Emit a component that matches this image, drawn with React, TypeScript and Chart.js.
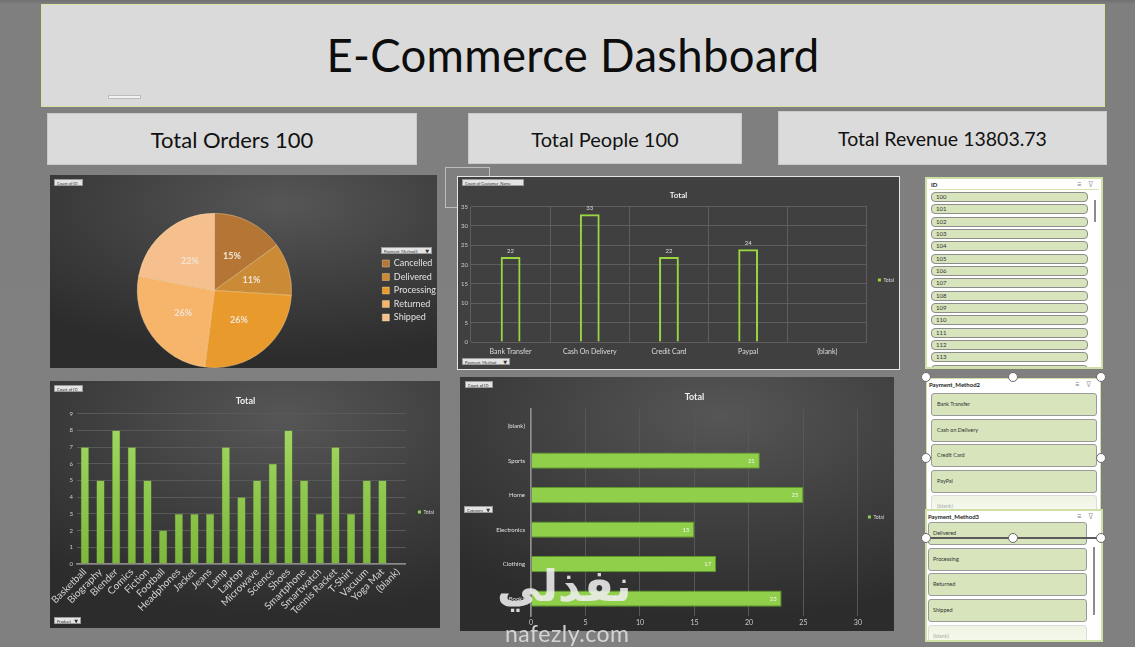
import React, { useEffect, useRef } from "react";
import { Chart, registerables } from "chart.js";

Chart.register(...registerables);

// ---------------- data ----------------
const statusLabels = ["Cancelled", "Delivered", "Processing", "Returned", "Shipped"];
const statusValues = [15, 11, 26, 26, 22];
const statusColors = ["#b57535", "#cb8a36", "#e99a2c", "#f6b56b", "#f5c08e"];

const paymentLabels = ["Bank Transfer", "Cash On Delivery", "Credit Card", "Paypal", "(blank)"];
const paymentValues = [22, 33, 22, 24, null];

const productLabels = [
  "Basketball", "Biography", "Blender", "Comics", "Fiction", "Football", "Headphones",
  "Jacket", "Jeans", "Lamp", "Laptop", "Microwave", "Science", "Shoes", "Smartphone",
  "Smartwatch", "Tennis Racket", "T-Shirt", "Vacuum", "Yoga Mat", "(blank)",
];
const productValues = [7, 5, 8, 7, 5, 2, 3, 3, 3, 7, 4, 5, 6, 8, 5, 3, 7, 3, 5, 5, null];

const categoryLabels = ["(blank)", "Sports", "Home", "Electronics", "Clothing", "Books"];
const categoryValues = [null, 21, 25, 15, 17, 23];

const kpiLabels = ["Total Orders", "Total People", "Total Revenue"];
const kpiValues = ["100", "100", "13803.73"];

const idItems = ["100", "101", "102", "103", "104", "105", "106", "107", "108", "109", "110", "111", "112", "113", "114"];
const paymentSlicerItems = ["Bank Transfer", "Cash on Delivery", "Credit Card", "PayPal", "(blank)"];
const statusSlicerItems = ["Delivered", "Processing", "Returned", "Shipped", "(blank)"];

// --------------- plugin: data labels ---------------
const valueLabels = {
  id: "valueLabels",
  afterDatasetsDraw(chart: any, _args: any, opts: any) {
    if (!opts || !opts.mode) return;
    const ctx = chart.ctx;
    const ds = chart.data.datasets[0];
    const meta = chart.getDatasetMeta(0);
    const total = (ds.data as any[]).reduce((a, b) => a + (b || 0), 0);
    ctx.save();
    ctx.font = opts.font;
    ctx.fillStyle = opts.color;
    meta.data.forEach((el: any, i: number) => {
      const v = ds.data[i];
      if (v == null) return;
      if (opts.mode === "pie") {
        const p = el.tooltipPosition();
        ctx.textAlign = "center";
        ctx.textBaseline = "middle";
        ctx.fillText(Math.round((v / total) * 100) + "%", p.x, p.y);
      } else if (opts.mode === "top") {
        ctx.textAlign = "center";
        ctx.textBaseline = "bottom";
        ctx.fillText(String(v), el.x, el.y - 3);
      } else if (opts.mode === "insideEnd") {
        ctx.textAlign = "right";
        ctx.textBaseline = "middle";
        ctx.fillText(String(v), el.x - 5, el.y);
      }
    });
    ctx.restore();
  },
};

// --------------- plugin: nudge legend box ---------------
const legendOffset = {
  id: "legendOffset",
  afterLayout(chart: any, _args: any, opts: any) {
    const l = chart.legend;
    if (!l || !opts) return;
    const dx = opts.dx || 0;
    const dy = opts.dy || 0;
    l.left += dx;
    l.right += dx;
    l.top += dy;
    l.bottom += dy;
  },
};
Chart.register(valueLabels as any, legendOffset as any);

const FONT = "Lato, 'DejaVu Sans', sans-serif";

const greenGradient = (c: any) => {
  const chart = c.chart;
  const area = chart.chartArea;
  if (!area) return "#8cc84b";
  const g = chart.ctx.createLinearGradient(0, area.top, 0, area.bottom);
  g.addColorStop(0, "#a4da64");
  g.addColorStop(1, "#7cb83c");
  return g;
};

function singleLegend(color: string) {
  return (chart: any) => [
    {
      text: chart.data.datasets[0].label,
      fillStyle: color,
      strokeStyle: color,
      lineWidth: 0,
      fontColor: "#dddddd",
      datasetIndex: 0,
    },
  ];
}

// --------------- small UI bits ---------------
function Btn({ x, y, w, text, arrow }: { x: number; y: number; w: number; text: string; arrow?: boolean }) {
  return (
    <div
      style={{
        position: "absolute",
        left: x,
        top: y,
        width: w,
        height: 7,
        background: "#e4e4e4",
        border: "1px solid #9a9a9a",
        fontSize: 4,
        lineHeight: "7px",
        color: "#333",
        paddingLeft: 2,
        boxSizing: "border-box",
        whiteSpace: "nowrap",
        overflow: "hidden",
        zIndex: 3,
      }}
    >
      {text}
      {arrow && <span style={{ position: "absolute", right: 2, top: 0, fontSize: 5 }}>▼</span>}
    </div>
  );
}

function Handle({ x, y }: { x: number; y: number }) {
  return (
    <div
      style={{
        position: "absolute",
        left: x - 5,
        top: y - 5,
        width: 8,
        height: 8,
        borderRadius: "50%",
        background: "#fff",
        border: "1px solid #6a6a6a",
        zIndex: 6,
      }}
    />
  );
}

function SlicerIcons({ x, y }: { x: number; y: number }) {
  return (
    <div style={{ position: "absolute", left: x, top: y, fontSize: 8, color: "#7a7a7a", lineHeight: "8px", whiteSpace: "nowrap" }}>
      <span>≡</span>
      <span style={{ marginLeft: 6, color: "#b0b0b0" }}>⊽</span>
    </div>
  );
}

export default function App() {
  const pieRef = useRef<HTMLCanvasElement>(null);
  const payRef = useRef<HTMLCanvasElement>(null);
  const prodRef = useRef<HTMLCanvasElement>(null);
  const catRef = useRef<HTMLCanvasElement>(null);

  useEffect(() => {
    document.body.style.margin = "0";
    Chart.defaults.font.family = FONT;
    const charts: Chart[] = [];

    // Pie
    charts.push(
      new Chart(pieRef.current!, {
        type: "pie",
        data: {
          labels: statusLabels,
          datasets: [
            {
              data: statusValues,
              backgroundColor: statusColors,
              borderColor: "rgba(255,225,180,0.55)",
              borderWidth: 0.7,
            },
          ],
        },
        options: {
          responsive: false,
          animation: false,
          layout: { padding: { top: 38, bottom: 0, left: 10, right: 0 } },
          plugins: {
            legend: {
              position: "right",
              labels: { color: "#e2e2e2", font: { size: 9, family: FONT }, boxWidth: 7, boxHeight: 7, padding: 4.5 },
            },
            tooltip: { enabled: false },
            valueLabels: { mode: "pie", color: "#f2e4d4", font: `bold 9px ${FONT}` },
            legendOffset: { dx: 9, dy: 0 },
          } as any,
        },
      })
    );

    // Payment method columns (hollow)
    charts.push(
      new Chart(payRef.current!, {
        type: "bar",
        data: {
          labels: paymentLabels,
          datasets: [
            {
              label: "Total",
              data: paymentValues,
              backgroundColor: "rgba(0,0,0,0)",
              borderColor: "#9ad640",
              borderWidth: 2,
              barPercentage: 0.25,
              categoryPercentage: 1,
            },
          ],
        },
        options: {
          responsive: false,
          animation: false,
          layout: { padding: { left: 2, right: 2, top: 0, bottom: 0 } },
          plugins: {
            title: {
              display: true,
              text: "Total",
              color: "#eeeeee",
              font: { size: 8, weight: "bold", family: FONT },
              padding: { top: 14, bottom: 6 },
            },
            legend: {
              position: "right",
              labels: { font: { size: 5, family: FONT }, boxWidth: 3, boxHeight: 3, padding: 4, generateLabels: singleLegend("#9ad640") },
            },
            tooltip: { enabled: false },
            valueLabels: { mode: "top", color: "#dddddd", font: `6px ${FONT}` },
            legendOffset: { dx: 7, dy: 7 },
          } as any,
          scales: {
            y: {
              min: 0,
              max: 35,
              ticks: { stepSize: 5, color: "#cccccc", font: { size: 6 }, padding: 3 },
              grid: { color: "#5e5e5e", drawTicks: false },
              border: { display: false },
              afterFit: (s: any) => { s.width = 11; },
            },
            x: {
              ticks: { color: "#dddddd", font: { size: 7 }, padding: 6 },
              grid: { color: "#5e5e5e", drawTicks: false },
              border: { display: false },
              afterFit: (s: any) => { s.height = 27; },
            },
          },
        },
      })
    );

    // Product columns
    charts.push(
      new Chart(prodRef.current!, {
        type: "bar",
        data: {
          labels: productLabels,
          datasets: [
            {
              label: "Total",
              data: productValues,
              backgroundColor: greenGradient,
              borderColor: "#74ad36",
              borderWidth: 0.5,
              barPercentage: 0.52,
              categoryPercentage: 1,
            },
          ],
        },
        options: {
          responsive: false,
          animation: false,
          layout: { padding: { left: 5, right: 4, top: 0, bottom: 3 } },
          plugins: {
            title: {
              display: true,
              text: "Total",
              color: "#eeeeee",
              font: { size: 9, weight: "bold", family: FONT },
              padding: { top: 15, bottom: 7 },
            },
            legend: {
              position: "right",
              labels: { font: { size: 5, family: FONT }, boxWidth: 3, boxHeight: 3, padding: 4, generateLabels: singleLegend("#92d050") },
            },
            tooltip: { enabled: false },
            legendOffset: { dx: 8, dy: 9 },
          } as any,
          scales: {
            y: {
              min: 0,
              max: 9,
              ticks: { stepSize: 1, color: "#cccccc", font: { size: 6 }, padding: 4 },
              grid: { color: "#595959", drawTicks: false },
              border: { display: false },
              afterFit: (s: any) => { s.width = 22; },
            },
            x: {
              ticks: { color: "#d2d2d2", font: { size: 10 }, autoSkip: false, minRotation: 45, maxRotation: 45, padding: 2 },
              grid: { display: false, drawTicks: false },
              border: { display: true, color: "#8a8a8a", width: 1.5 },
              afterFit: (s: any) => { s.height = 61; },
            },
          },
        },
      })
    );

    // Category horizontal bars
    charts.push(
      new Chart(catRef.current!, {
        type: "bar",
        data: {
          labels: categoryLabels,
          datasets: [
            {
              label: "Total",
              data: categoryValues,
              backgroundColor: "#90cf49",
              borderColor: "#5e9a2a",
              borderWidth: 1,
              barPercentage: 0.47,
              categoryPercentage: 1,
            },
          ],
        },
        options: {
          indexAxis: "y",
          responsive: false,
          animation: false,
          layout: { padding: { left: 5, right: 6, top: 0, bottom: 0 } },
          plugins: {
            title: {
              display: true,
              fullSize: false,
              text: "Total",
              color: "#eeeeee",
              font: { size: 9, weight: "bold", family: FONT },
              padding: { top: 15, bottom: 6 },
            },
            legend: {
              position: "right",
              labels: { font: { size: 5, family: FONT }, boxWidth: 3, boxHeight: 3, padding: 4, generateLabels: singleLegend("#92d050") },
            },
            tooltip: { enabled: false },
            valueLabels: { mode: "insideEnd", color: "#f4f4f4", font: `6px ${FONT}` },
            legendOffset: { dx: 6, dy: 13 },
          } as any,
          scales: {
            x: {
              min: 0,
              max: 30,
              ticks: { stepSize: 5, color: "#cccccc", font: { size: 7 }, padding: 3 },
              grid: { color: "#575757", drawTicks: false },
              border: { display: false },
              afterFit: (s: any) => { s.height = 15; },
            },
            y: {
              ticks: { color: "#e0e0e0", font: { size: 6 }, padding: 6 },
              grid: { display: false, drawTicks: false },
              border: { display: true, color: "#8f8f8f", width: 1.5 },
              afterFit: (s: any) => { s.width = 66; },
            },
          },
        },
      })
    );

    return () => charts.forEach((c) => c.destroy());
  }, []);

  const darkPanel = "radial-gradient(ellipse 90% 80% at 60% 15%, #565656 0%, #3e3e3e 55%, #2c2c2c 100%)";
  const kpiFont = [22, 20, 19.5];

  return (
    <div
      style={{
        position: "fixed",
        left: 0,
        top: 0,
        width: 1135,
        height: 647,
        background: "linear-gradient(#6f6f6f 0px, #7f7f7f 4px, #808080 100%)",
        overflow: "hidden",
        fontFamily: FONT,
      }}
    >
      {/* header */}
      <div
        style={{
          position: "absolute",
          left: 41,
          top: 4,
          width: 1064,
          height: 103,
          background: "#dadada",
          border: "1px solid #d5e3a0",
          boxSizing: "border-box",
          display: "flex",
          alignItems: "center",
          justifyContent: "center",
        }}
      >
        <div style={{ fontSize: 45.5, color: "#0d0d0d", marginTop: -3, letterSpacing: 0.3 }}>E-Commerce Dashboard</div>
        <div style={{ position: "absolute", left: 66, top: 90, width: 31, height: 2, background: "#f2f2f2", border: "0.5px solid #bdbdbd" }} />
      </div>

      {/* KPI cards */}
      {[
        { x: 47, y: 113, w: 370, h: 52 },
        { x: 468, y: 113, w: 274, h: 51 },
        { x: 778, y: 111, w: 329, h: 54 },
      ].map((b, i) => (
        <div
          key={i}
          style={{
            position: "absolute",
            left: b.x,
            top: b.y,
            width: b.w,
            height: b.h,
            background: "#dbdbdb",
            border: "1px solid #c9c9c9",
            boxSizing: "border-box",
            display: "flex",
            alignItems: "center",
            justifyContent: "center",
            fontSize: kpiFont[i],
            color: "#111",
          }}
        >
          {kpiLabels[i]} {kpiValues[i]}
        </div>
      ))}

      {/* pie panel */}
      <div style={{ position: "absolute", left: 50, top: 175, width: 387, height: 193, background: darkPanel }}>
        <canvas ref={pieRef} width={387} height={193} style={{ width: 387, height: 193, display: "block" }} />
      </div>
      <Btn x={54} y={179} w={29} text="Count of ID" />
      <Btn x={381} y={247} w={51} text="Payment_Method3" arrow />

      {/* outline artifact */}
      <div style={{ position: "absolute", left: 445, top: 167, width: 45, height: 41, border: "1px solid #bdbdbd", boxSizing: "border-box" }} />

      {/* payment column panel */}
      <div
        style={{
          position: "absolute",
          left: 457,
          top: 176,
          width: 443,
          height: 194,
          background: "#404040",
          border: "1px solid #e6e6e6",
          boxSizing: "border-box",
        }}
      >
        <canvas ref={payRef} width={441} height={192} style={{ width: 441, height: 192, display: "block" }} />
      </div>
      <Btn x={462} y={179} w={62} text="Count of Customer_Name" />
      <Btn x={462} y={358} w={48} text="Payment_Method" arrow />

      {/* product column panel */}
      <div style={{ position: "absolute", left: 50, top: 381, width: 390, height: 247, background: darkPanel }}>
        <canvas ref={prodRef} width={390} height={247} style={{ width: 390, height: 247, display: "block" }} />
      </div>
      <Btn x={54} y={385} w={29} text="Count of ID" />
      <Btn x={54} y={617} w={27} text="Product" arrow />

      {/* category bar panel */}
      <div style={{ position: "absolute", left: 460, top: 377, width: 434, height: 254, background: darkPanel }}>
        <canvas ref={catRef} width={434} height={254} style={{ width: 434, height: 254, display: "block" }} />
      </div>
      <Btn x={465} y={381} w={28} text="Count of ID" />
      <Btn x={464} y={506} w={29} text="Category" arrow />

      {/* ID slicer */}
      <div
        style={{
          position: "absolute",
          left: 925,
          top: 177,
          width: 178,
          height: 192,
          background: "#ffffff",
          border: "2px solid #cfe0a6",
          boxSizing: "border-box",
          overflow: "hidden",
        }}
      >
        <div style={{ position: "absolute", left: 4, top: 2, fontSize: 6, fontWeight: "bold", color: "#222" }}>ID</div>
        <SlicerIcons x={150} y={1} />
        <div style={{ position: "absolute", left: 2, right: 2, top: 10, height: 1, background: "#d6e2b0" }} />
        {idItems.map((t, i) => (
          <div
            key={t}
            style={{
              position: "absolute",
              left: 4,
              top: 13 + i * 12.33,
              width: 157,
              height: 10,
              background: "#d7e4bc",
              border: "1px solid #8d8d8d",
              borderRadius: 4,
              boxSizing: "border-box",
              fontSize: 6,
              lineHeight: "8px",
              paddingLeft: 4,
              color: "#333",
            }}
          >
            {t}
          </div>
        ))}
        <div style={{ position: "absolute", left: 167, top: 21, width: 1.5, height: 22, background: "#8c8c8c" }} />
      </div>

      {/* Payment_Method2 slicer */}
      <div
        style={{
          position: "absolute",
          left: 926,
          top: 378,
          width: 175,
          height: 138,
          background: "#ffffff",
          border: "1px solid #cfe0a6",
          boxSizing: "border-box",
          overflow: "hidden",
        }}
      >
        <div style={{ position: "absolute", left: 2, top: 2, fontSize: 6, fontWeight: "bold", color: "#222" }}>Payment_Method2</div>
        <SlicerIcons x={148} y={1} />
        {paymentSlicerItems.map((t, i) => (
          <div
            key={t}
            style={{
              position: "absolute",
              left: 4,
              top: 14 + i * 25.5,
              width: 166,
              height: 23,
              background: i === 4 ? "linear-gradient(#eef4e2, #f8fbf2)" : "#d7e4bc",
              border: i === 4 ? "1px solid #dcdcdc" : "1px solid #9a9a9a",
              borderRadius: 3,
              boxSizing: "border-box",
              fontSize: 5.5,
              lineHeight: "21px",
              paddingLeft: 5,
              color: i === 4 ? "#aaa" : "#333",
            }}
          >
            {t}
          </div>
        ))}
      </div>

      {/* Payment_Method3 slicer */}
      <div
        style={{
          position: "absolute",
          left: 925,
          top: 509,
          width: 178,
          height: 133,
          background: "#ffffff",
          border: "2px solid #cfe0a6",
          boxSizing: "border-box",
          overflow: "hidden",
        }}
      >
        <div style={{ position: "absolute", left: 1, top: 2, fontSize: 6, fontWeight: "bold", color: "#222" }}>Payment_Method3</div>
        <SlicerIcons x={150} y={1} />
        {statusSlicerItems.map((t, i) => (
          <div
            key={t}
            style={{
              position: "absolute",
              left: 1,
              top: 11 + i * 25.7,
              width: 159,
              height: 23,
              background: i === 4 ? "linear-gradient(#eef4e2, #f8fbf2)" : "#d7e4bc",
              border: i === 4 ? "1px solid #dcdcdc" : "1px solid #9a9a9a",
              borderRadius: 3,
              boxSizing: "border-box",
              fontSize: 5.5,
              lineHeight: "21px",
              paddingLeft: 4,
              color: i === 4 ? "#aaa" : "#333",
            }}
          >
            {t}
          </div>
        ))}
        <div style={{ position: "absolute", left: 166, top: 36, width: 1.5, height: 68, background: "#8c8c8c" }} />
      </div>

      {/* selection handles */}
      <div style={{ position: "absolute", left: 925, top: 537, width: 176, height: 1.5, background: "#5a5a5a", zIndex: 5 }} />
      {[
        [926, 377], [1013, 377], [1101, 377],
        [926, 458], [1101, 458],
        [926, 538], [1013, 538], [1101, 538],
      ].map(([x, y], i) => (
        <Handle key={i} x={x} y={y} />
      ))}

      {/* watermark */}
      <div
        style={{
          position: "absolute",
          left: 497,
          top: 558,
          fontFamily: "'DejaVu Sans', sans-serif",
          fontWeight: "bold",
          fontSize: 44,
          color: "rgba(238,238,238,0.88)",
          zIndex: 8,
          lineHeight: "56px",
          direction: "rtl",
        }}
      >
        نفذلي
      </div>
      <div
        style={{
          position: "absolute",
          left: 505,
          top: 620,
          fontSize: 23,
          color: "rgba(222,222,222,0.9)",
          zIndex: 8,
          lineHeight: "26px",
          letterSpacing: 0.5,
        }}
      >
        nafezly.com
      </div>
    </div>
  );
}
